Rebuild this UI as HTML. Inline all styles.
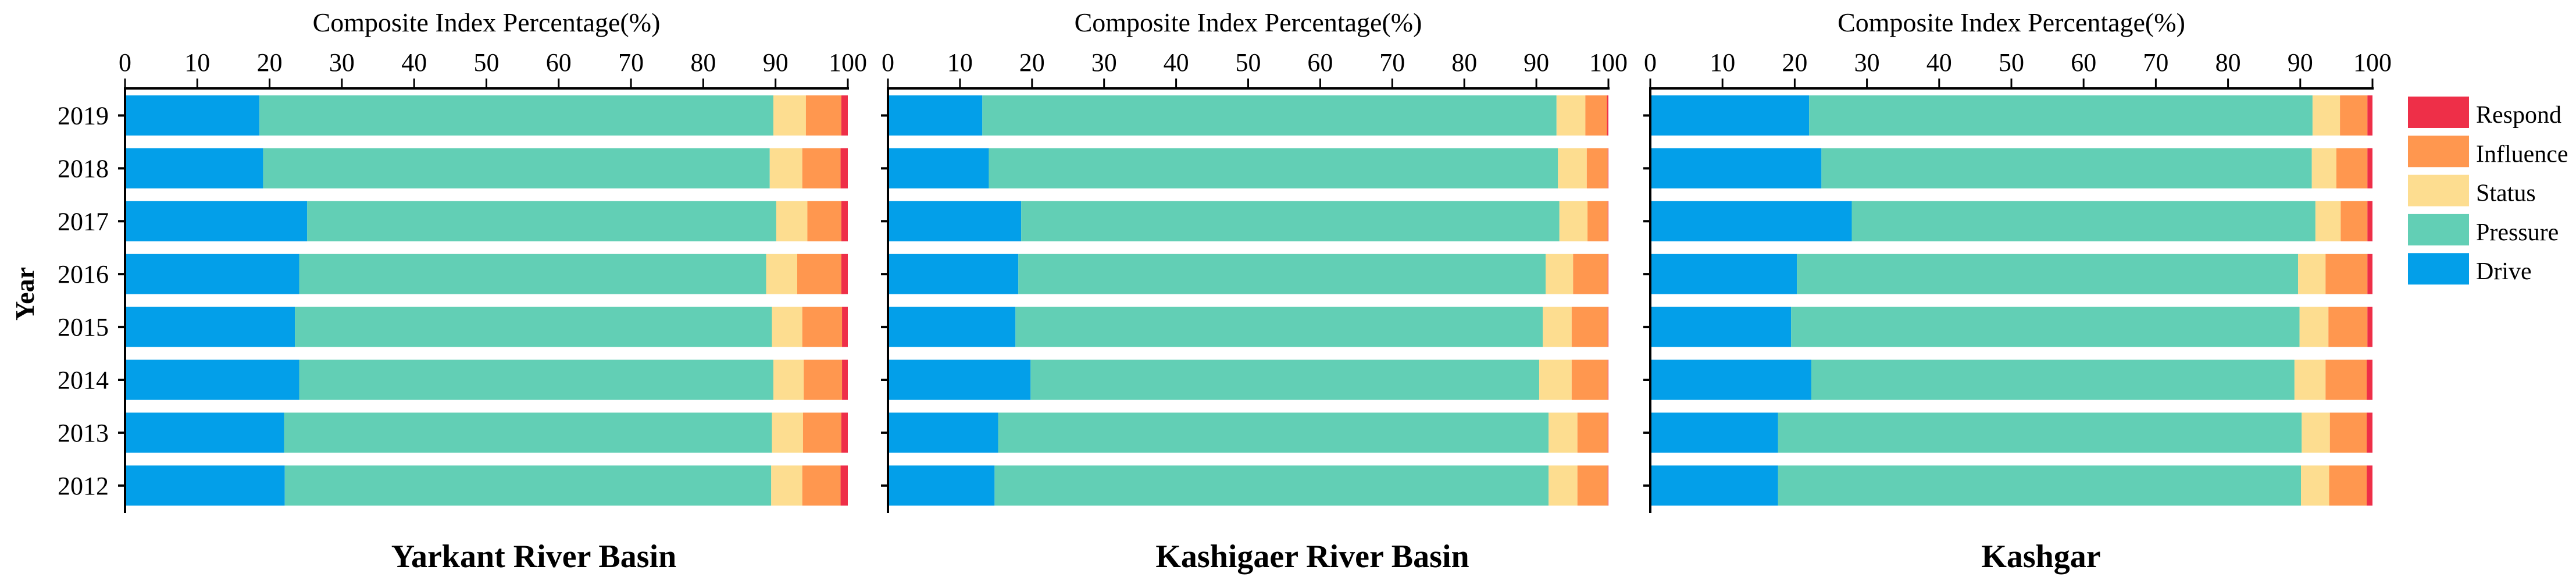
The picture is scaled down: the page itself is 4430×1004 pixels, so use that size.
<!DOCTYPE html>
<html><head><meta charset="utf-8"><style>
html,body{margin:0;padding:0;background:#fff;}
svg{display:block;font-family:"Liberation Serif","Times New Roman",serif;}
</style></head><body>
<svg id="chart" width="4430" height="1004" viewBox="0 0 4430 1004" xmlns="http://www.w3.org/2000/svg"></svg>
<script>
const years = ["2012","2013","2014","2015","2016","2017","2018","2019"];
const seriesNames = ["Drive","Pressure","Status","Influence","Respond"];
const xTicks = [0,10,20,30,40,50,60,70,80,90,100];
// Yarkant River Basin (2012..2019)
const yarkDrive = [22.1,22.0,24.1,23.5,24.1,25.2,19.1,18.6];
const yarkPressure = [67.3,67.5,65.6,66.0,64.6,64.9,70.1,71.1];
const yarkStatus = [4.3,4.3,4.2,4.2,4.3,4.3,4.5,4.5];
const yarkInfluence = [5.3,5.3,5.3,5.5,6.1,4.7,5.3,4.9];
const yarkRespond = [1.0,0.9,0.8,0.8,0.9,0.9,1.0,0.9];
// Kashigaer River Basin
const kashiDrive = [14.8,15.3,19.8,17.7,18.1,18.5,14.0,13.1];
const kashiPressure = [76.9,76.4,70.6,73.2,73.2,74.7,79.0,79.7];
const kashiStatus = [4.0,4.0,4.5,4.0,3.8,3.9,4.0,4.0];
const kashiInfluence = [4.2,4.2,5.0,5.0,4.8,2.8,2.9,3.0];
const kashiRespond = [0.1,0.1,0.1,0.1,0.1,0.1,0.1,0.2];
// Kashgar
const kgDrive = [17.7,17.7,22.3,19.5,20.3,27.9,23.7,22.0];
const kgPressure = [72.4,72.5,66.9,70.4,69.4,64.2,67.9,69.7];
const kgStatus = [3.9,3.9,4.3,4.0,3.8,3.5,3.4,3.8];
const kgInfluence = [5.2,5.1,5.7,5.4,5.8,3.7,4.3,3.8];
const kgRespond = [0.8,0.8,0.8,0.7,0.7,0.7,0.7,0.7];

const colors = ["#039fe9","#62cfb5","#fddd90","#ff974f","#ee2f48"];
const NS = "http://www.w3.org/2000/svg";
const svg = document.getElementById("chart");
function mk(tag, attrs, parent){ const e=document.createElementNS(NS,tag); for(const k in attrs) e.setAttribute(k,attrs[k]); (parent||svg).appendChild(e); return e; }

const panels = [
  {name:"yarkant", title:"Yarkant River Basin", x0:215, x1:1458, tcx:918, showYears:true, data:[yarkDrive,yarkPressure,yarkStatus,yarkInfluence,yarkRespond]},
  {name:"kashigaer", title:"Kashigaer River Basin", x0:1527, x1:2766, tcx:2257, showYears:false, data:[kashiDrive,kashiPressure,kashiStatus,kashiInfluence,kashiRespond]},
  {name:"kashgar", title:"Kashgar", x0:2838, x1:4080, tcx:3510, showYears:false, data:[kgDrive,kgPressure,kgStatus,kgInfluence,kgRespond]}
];
const axisY = 152, axisBottom = 882, barTop0 = 164, pitch = 90.9, barH = 69;
function yRow(i){ return barTop0 + (years.length-1-i)*pitch; } // 2019 on top

panels.forEach(p=>{
  const g = mk("g",{});
  
  
  const xs = v => p.x0 + (p.x1-p.x0)*v/100;
  // bars
  years.forEach((yr,i)=>{
    let cum = 0;
    p.data.forEach((arr,s)=>{
      const a = xs(cum), b = xs(cum+arr[i]);
      const r = mk("rect",{x:a,y:yRow(i),width:Math.max(0,b-a),height:barH,fill:colors[s]},g);
      
      
      cum += arr[i];
    });
    const tk = mk("line",{x1:p.x0-12,x2:p.x0+2,y1:yRow(i)+barH/2,y2:yRow(i)+barH/2,stroke:"#000","stroke-width":4},g);
    
    
    if(p.showYears){
      const t = mk("text",{x:187,y:yRow(i)+barH/2+15,"font-size":44,"text-anchor":"end",fill:"#000"},g);
      t.textContent = yr;
      
      
    }
  });
  // axes
  const xa = mk("line",{x1:p.x0-2,x2:p.x1+2,y1:axisY,y2:axisY,stroke:"#000","stroke-width":4},g);
  
  
  const ya = mk("line",{x1:p.x0,x2:p.x0,y1:axisY,y2:axisBottom,stroke:"#000","stroke-width":4},g);
  
  
  xTicks.forEach(v=>{
    const l = mk("line",{x1:xs(v),x2:xs(v),y1:axisY,y2:axisY-17,stroke:"#000","stroke-width":3},g);
    
    
    const t = mk("text",{x:xs(v),y:122,"font-size":44,"text-anchor":"middle",fill:"#000"},g);
    t.textContent = v;
    
    
  });
  const at = mk("text",{x:(p.x0+p.x1)/2,y:54,"font-size":46,"text-anchor":"middle",fill:"#000"},g);
  at.textContent = "Composite Index Percentage(%)";
  
  
  const bt = mk("text",{x:p.tcx,y:975,"font-size":56,"font-weight":"bold","text-anchor":"middle",fill:"#000"},g);
  bt.textContent = p.title;
  
  
});

const yt = mk("text",{x:0,y:0,"font-size":46,"font-weight":"bold","text-anchor":"middle",fill:"#000",transform:"translate(58,505) rotate(-90)"});
yt.textContent = "Year";



// legend
const legendOrder = [4,3,2,1,0];
legendOrder.forEach((s,k)=>{
  const y = 166 + k*67.3;
  const r = mk("rect",{x:4141,y:y,width:105,height:54,fill:colors[s]});
  
  
  const t = mk("text",{x:4258,y:y+45,"font-size":42,fill:"#000"});
  t.textContent = seriesNames[s];
  
  
});
</script>
</body></html>
